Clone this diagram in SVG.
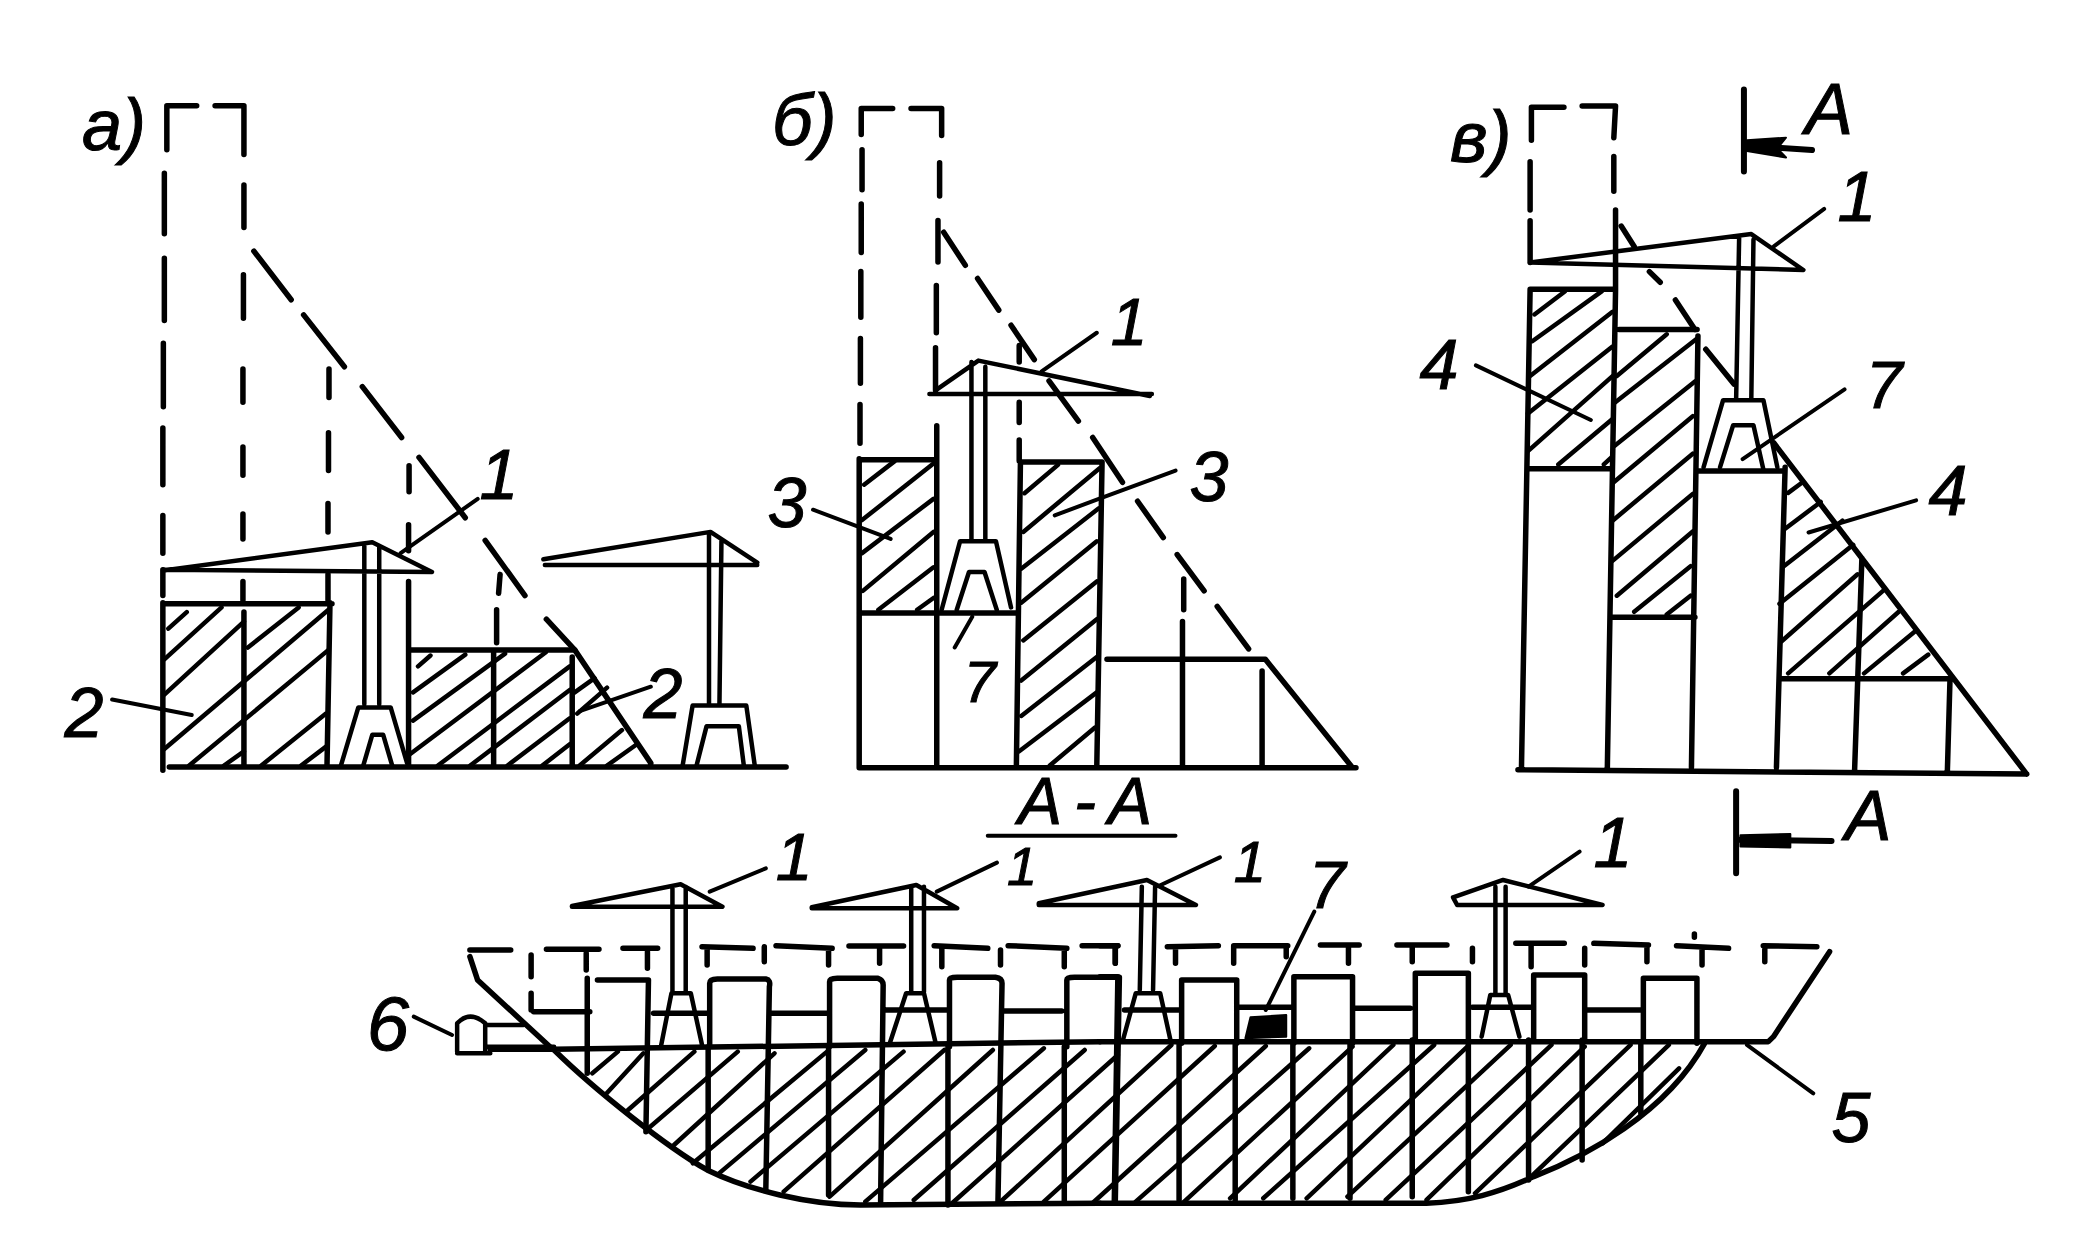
<svg xmlns="http://www.w3.org/2000/svg" width="2089" height="1245" viewBox="0 0 2089 1245">
<style>
path{fill:none;stroke:#000;stroke-linecap:round;stroke-linejoin:round;vector-effect:non-scaling-stroke}
.m{stroke-width:5.5}
.g{stroke-width:6}
.c{stroke-width:4.5}
.h{stroke-width:4.5}
.n{stroke-width:4}
.f{fill:#000;stroke-width:2}
text{font-family:"Liberation Sans",Arial,sans-serif;font-style:italic;font-size:70px;fill:#000;stroke:#000;stroke-width:1;text-anchor:middle}
.s{text-anchor:start}
</style>
<rect width="2089" height="1245" fill="#fff"/>

<g id="panel-a" transform="translate(40 60) scale(.4974 .4719)">
<path class="m" d="M255 190V97H315M352 97H410V200M250 240V368M250 420V552M248 600V735M247 780V900M247 965V1045M247 1080V1135M247 1150V1505M410 265V355M409 455V547M408 655V725M408 820V880M408 962V1015M408 1105V1145M410 1170V1498M581 655V715M580 790V870M579 940V1000M579 1090V1145M583 1150L577 1495M742 860V915M741 985V1040M741 1105V1495M925 1090L922 1130M918 1165V1235M912 1255V1498M1070 1265V1498M247 1152H587M742 1250H1075L1228 1490M260 1498H1500"/>
<path class="m" d="M430 405L505 508M530 540L612 650M648 692L727 800M762 842L855 970M895 1018L975 1135M1018 1185L1075 1250"/>
<path class="h" d="M258 1205L295 1170M250 1270L365 1160M250 1345L410 1190M418 1245L520 1160M250 1460L580 1165M300 1495L580 1250M370 1495L410 1465M445 1495L575 1385M525 1495L575 1455M760 1285L785 1262M750 1340L855 1260M750 1400L935 1258M745 1470L1017 1255M800 1495L1065 1285M865 1495L1065 1335M940 1495L1065 1395M1010 1495L1065 1450M1085 1495L1170 1420M1140 1495L1200 1450M1080 1385L1140 1330M1075 1340L1115 1310"/>
<g id="crane-a1"><path class="c" d="M248 1082L668 1022L788 1085L248 1080M652 1030V1365M682 1030V1365M605 1495L640 1372H705L738 1490M650 1495L668 1430H690L708 1495"/></g>
<g id="crane-a2"><path class="c" d="M1012 1058L1348 1000L1442 1065M1015 1070H1442M1345 1005V1365M1370 1020L1366 1365M1292 1495L1312 1368H1420L1437 1495M1320 1495L1340 1412H1405L1415 1495"/></g>
</g>

<g id="panel-b" transform="translate(760 60) scale(.4082 .4719)">
<path class="m" d="M248 158V103H325M370 103H445V160M250 190V275M248 305V408M247 448V545M246 590V685M245 730V812M243 845V1500M440 218V288M436 340V428M432 478V578M430 610V700M433 775V1500M635 605V640M635 725V768M635 805V850M638 852L628 1500M243 847H433M638 852H838L825 1500M250 1172H625M243 1500H1460M850 1270H1238L1450 1498M1038 1100V1165M1035 1190V1500M1230 1295V1500"/>
<path class="m" d="M450 365L503 435M533 463L585 530M615 562L672 635M708 680L780 765M815 800L888 895M925 935L988 1012M1022 1048L1088 1125M1120 1158L1197 1248"/>
<path class="h" d="M255 900L330 850M250 975L425 855M250 1045L425 930M252 1125L425 1000M290 1165L425 1075M385 1165L425 1140M648 918L730 858M645 1000L832 865M640 1078L830 950M640 1150L825 1020M645 1230L825 1105M640 1315L825 1185M640 1390L825 1265M635 1465L825 1340M710 1495L820 1415"/>
<g id="crane-b"><path class="c" d="M430 700L535 637L955 712M415 708H960M518 640V1020M552 650V1020M445 1165L490 1020H578L615 1160M482 1165L512 1085H550L580 1165"/></g>
</g>

<g id="panel-c" transform="translate(1400 60) scale(.4337 .5357)">
<path class="m" d="M303 150V88H378M420 86H497L493 145M300 190V280M300 300V378M493 180V245M497 280V430M300 428H497M300 428L280 1325M497 430L478 1325M505 503H685M687 515L672 1320M295 763H490M487 1040H680M685 767H885M888 760L868 1320M878 1155H1270M1065 930L1048 1330M1268 1160L1262 1330M272 1325L1445 1333M862 715L1445 1333"/>
<path class="m" d="M510 310L540 348M575 395L600 415M635 448L680 503M705 540L770 605"/>
<path class="h" d="M310 475L380 432M305 525L465 432M300 590L490 470M295 660L490 535M295 730L490 590M365 755L490 670M470 755L490 740M500 590L615 512M495 640L685 520M495 720L680 600M490 790L675 665M490 860L675 735M490 935L675 810M500 1000L675 880M540 1030L670 945M615 1035L670 1000M895 808L925 790M888 875L970 825M885 945L1020 860M875 1015L1045 905M880 1085L1055 960M895 1145L1115 990M990 1145L1150 1030M1070 1145L1190 1065M1160 1145L1218 1110"/>
<g id="crane-c"><path class="c" d="M300 378L810 325L930 392L300 378M782 330L775 635M815 335L810 635M700 760L745 635H838L870 760M738 760L768 682H815L838 765"/></g>
<g id="section-marks"><path class="g" d="M793 55V208M800 160L950 168M775 1365V1518M780 1455L995 1458"/><path class="f" d="M800 150L890 145L870 165L890 182L800 170ZM785 1447L900 1445V1470L785 1468Z"/></g>
</g>

<g id="section" transform="translate(350 780) scale(.5102 .3333)">
<path class="m" d="M275 808H400L1470 785M235 530L250 600L395 805M400 810C480 930 620 1100 700 1170C780 1230 900 1275 1000 1275L1470 1270"/>
<path class="m" d="M235 510H315M385 508H488M463 520V570M535 505H603M583 515V565M690 500L790 505M700 505V555M812 500V545M835 497L945 505M938 505V555M978 498H1085M1038 500V550M1145 497L1250 505M1160 505V560M1275 510V555M1290 497L1405 505M1400 505V560M1435 497H1505M1500 500V550M355 525V590M355 640V690M360 695H470"/>
<path class="m" d="M465 595V880M485 600H585L580 1055M595 700H700M705 800V610Q705 597 720 597H815Q825 600 822 620L815 1230M702 800V1165M825 700H940M940 800V605Q940 595 955 595H1035Q1045 600 1045 615L1040 1265M938 800V1245M1050 690H1170M1175 800V600Q1175 592 1190 592H1265Q1278 595 1278 610L1270 1265M1172 800V1275M1282 693H1395M1405 800V600Q1405 592 1420 592H1508L1500 1265M1400 800V1265"/>
<path class="h" d="M475 880L525 815M500 945L575 820M545 990L675 815M585 1045L760 815M635 1095L832 820M672 1150L935 815M725 1178L1010 810M785 1205L1085 815M850 1235L1165 810M940 1250L1260 810M1010 1265L1360 805M1105 1260L1440 810M1180 1270L1505 825"/>
<g id="crane-s1"><path class="c" d="M435 378L648 313L730 380H435ZM632 320V635M658 320V635M610 795L630 640H668L690 795"/></g>
<g id="crane-s2"><path class="c" d="M905 382L1110 315L1190 385H905ZM1100 320V635M1125 320V635M1058 790L1090 640H1125L1148 790"/></g>
<g id="excavator-6"><path class="c" d="M210 815V730Q235 690 265 730V815M210 820H275M270 735H340M270 800H400"/></g>
</g>

<g id="section-right" transform="translate(1100 780) scale(.5102 .3333)">
<path class="m" d="M0 785H1190M0 1270H640C720 1265 780 1240 850 1190C950 1130 1110 1000 1185 790M1430 515L1320 770L1310 785H1190"/>
<path class="m" d="M0 497H35M30 500V550M132 500L232 497M148 500V550M262 550V497H368M365 497V530M432 495H508M487 495V550M582 495H680M612 495V545M730 505V545M815 490H910M845 495V560M950 505V555M968 490L1075 495M1072 495V545M1130 497L1232 505M1180 505V555M1300 497L1405 500M1303 500V545"/>
<path class="m" d="M1165 462V472M0 590H35L28 1265M48 690H155M160 790V600H268V790M155 790V1260M265 790V1260M270 682H378M380 790V590H495V790M378 790V1255M490 790V1255M500 685H608M618 780V580H722V780M612 780V1250M722 780V1235M730 682H848M850 780V585H950V780M840 780V1200M945 780V1140M955 690H1060M1065 780V595H1170V790M1060 790V1000"/>
<path class="h" d="M140 795L-195 1265M225 798L-110 1265M325 798L-15 1270M410 805L70 1265M495 800L165 1265M575 795L255 1255M655 795L320 1255M720 800L405 1255M805 795L485 1250M885 795L560 1260M950 800L640 1260M1040 795L735 1240M1115 795L845 1190M1135 865L985 1090"/>
<path class="f" d="M295 712L365 705V770L285 775Z"/>
<g id="crane-s3"><path class="c" d="M-120 370L92 300L188 375H-120ZM82 320L78 630M108 320L104 630M45 780L70 640H118L138 780"/></g>
<g id="crane-s4"><path class="c" d="M692 352L790 300L985 375H700L692 352ZM775 320V640M795 320V640M748 770L765 645H800L822 770"/></g>
</g>

<g id="connectors">
<g transform="translate(40 60) scale(.4974 .4719)"><path class="n" d="M725 1045L880 930M145 1355L305 1388M1085 1380L1228 1328"/></g>
<g transform="translate(760 60) scale(.4082 .4719)"><path class="n" d="M690 660L825 578M130 953L320 1015M722 965L830 930L1018 870M520 1180L477 1245"/></g>
<g transform="translate(1400 60) scale(.4337 .5357)"><path class="n" d="M175 570L440 672M862 348L978 278M790 745L1025 615M942 882L1190 822"/></g>
<g transform="translate(350 780) scale(.5102 .3333)"><path class="n" d="M125 710L200 765M705 335L815 265M1150 335L1268 248M1250 167H1618"/></g>
<g transform="translate(1100 780) scale(.5102 .3333)"><path class="n" d="M115 318L235 232M840 320L940 215M420 395L325 690M1268 795L1398 940"/></g>
</g>

<g id="labels">
<text class="s" x="82" y="150" style="font-size:72px">а)</text>
<text class="s" x="772" y="145" style="font-size:72px">б)</text>
<text class="s" x="1450" y="162" style="font-size:72px">в)</text>
<text x="499" y="499">1</text>
<text x="84" y="737">2</text>
<text x="663" y="718">2</text>
<text x="1129" y="345" style="font-size:66px">1</text>
<text x="787" y="527">3</text>
<text x="1209" y="501">3</text>
<text x="980" y="702" style="font-size:58px">7</text>
<text x="1829" y="134" style="font-size:72px">А</text>
<text x="1857" y="221">1</text>
<text x="1439" y="389">4</text>
<text x="1884" y="408" style="font-size:66px">7</text>
<text x="1948" y="515">4</text>
<text x="1868" y="840">А</text>
<text class="s" x="1018" y="824" textLength="134" lengthAdjust="spacing" style="font-size:66px">А - А</text>
<text x="388" y="1050" style="font-size:76px">6</text>
<text x="794" y="880" style="font-size:66px">1</text>
<text x="1022" y="885" style="font-size:54px">1</text>
<text x="1250" y="882" style="font-size:58px">1</text>
<text x="1613" y="867">1</text>
<text x="1327" y="908" style="font-size:66px">7</text>
<text x="1851" y="1142">5</text>
</g>
</svg>
